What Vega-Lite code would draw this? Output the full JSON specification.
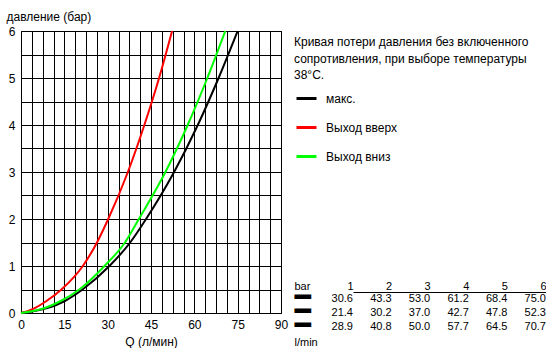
{
  "$schema": "https://vega.github.io/schema/vega-lite/v6.json",
  "padding": {"left": 5, "top": 9, "right": 0, "bottom": 0},
  "background": "white",
  "bounds": "flush",
  "spacing": 13,
  "config": {
    "font": "Liberation Sans",
    "view": {"stroke": "black", "strokeWidth": 1},
    "axis": {"labelColor": "black", "titleColor": "black", "labelFontSize": 12, "titleFontSize": 12, "titleFontWeight": "normal", "labelFont": "Liberation Sans", "titleFont": "Liberation Sans"}
  },
  "datasets": {
    "curves": [
      {"series": "макс.", "Q": 0, "p": 0},
      {"series": "макс.", "Q": 8.7, "p": 0.1},
      {"series": "макс.", "Q": 15, "p": 0.25},
      {"series": "макс.", "Q": 21.3, "p": 0.5},
      {"series": "макс.", "Q": 30.6, "p": 1},
      {"series": "макс.", "Q": 37.8, "p": 1.5},
      {"series": "макс.", "Q": 43.3, "p": 2},
      {"series": "макс.", "Q": 53.0, "p": 3},
      {"series": "макс.", "Q": 61.2, "p": 4},
      {"series": "макс.", "Q": 68.4, "p": 5},
      {"series": "макс.", "Q": 75.0, "p": 6},
      {"series": "Выход вверх", "Q": 0, "p": 0},
      {"series": "Выход вверх", "Q": 4.6, "p": 0.1},
      {"series": "Выход вверх", "Q": 8.7, "p": 0.25},
      {"series": "Выход вверх", "Q": 14, "p": 0.5},
      {"series": "Выход вверх", "Q": 21.4, "p": 1},
      {"series": "Выход вверх", "Q": 26.3, "p": 1.5},
      {"series": "Выход вверх", "Q": 30.2, "p": 2},
      {"series": "Выход вверх", "Q": 37.0, "p": 3},
      {"series": "Выход вверх", "Q": 42.7, "p": 4},
      {"series": "Выход вверх", "Q": 47.8, "p": 5},
      {"series": "Выход вверх", "Q": 52.3, "p": 6},
      {"series": "Выход вниз", "Q": 0, "p": 0},
      {"series": "Выход вниз", "Q": 8, "p": 0.1},
      {"series": "Выход вниз", "Q": 13.6, "p": 0.25},
      {"series": "Выход вниз", "Q": 20.2, "p": 0.5},
      {"series": "Выход вниз", "Q": 28.9, "p": 1},
      {"series": "Выход вниз", "Q": 36, "p": 1.5},
      {"series": "Выход вниз", "Q": 40.8, "p": 2},
      {"series": "Выход вниз", "Q": 50.0, "p": 3},
      {"series": "Выход вниз", "Q": 57.7, "p": 4},
      {"series": "Выход вниз", "Q": 64.5, "p": 5},
      {"series": "Выход вниз", "Q": 70.7, "p": 6}
    ]
  },
  "hconcat": [
    {
      "width": 260,
      "height": 282,
      "data": {"name": "curves"},
      "mark": {"type": "line", "interpolate": "monotone", "strokeWidth": 2},
      "encoding": {
        "x": {
          "field": "Q", "type": "quantitative",
          "scale": {"domain": [0, 90], "nice": false, "zero": true},
          "axis": {
            "values": [0, 3.75, 7.5, 11.25, 15, 18.75, 22.5, 26.25, 30, 33.75, 37.5, 41.25, 45, 48.75, 52.5, 56.25, 60, 63.75, 67.5, 71.25, 75, 78.75, 82.5, 86.25, 90],
            "labelExpr": "datum.value % 15 == 0 ? format(datum.value, 'd') : ''",
            "grid": true, "gridColor": "black", "gridOpacity": 1, "gridWidth": 1,
            "ticks": false, "tickSize": 0, "domain": false,
            "labelPadding": 6, "labelFlush": false, "labelOverlap": false,
            "title": "Q (л/мин)", "titlePadding": 6
          }
        },
        "y": {
          "field": "p", "type": "quantitative",
          "scale": {"domain": [0, 6], "nice": false},
          "axis": {
            "values": [0, 0.5, 1, 1.5, 2, 2.5, 3, 3.5, 4, 4.5, 5, 5.5, 6],
            "labelExpr": "datum.value % 1 == 0 ? format(datum.value, 'd') : ''",
            "grid": true, "gridColor": "black", "gridOpacity": 1, "gridWidth": 1,
            "ticks": false, "tickSize": 0, "domain": false,
            "labelPadding": 6, "labelFlush": false, "labelOverlap": false,
            "title": "давление (бар)", "titleAngle": 0, "titleX": -15, "titleY": -11,
            "titleAlign": "left", "titleBaseline": "alphabetic"
          }
        },
        "color": {
          "field": "series", "type": "nominal",
          "scale": {"domain": ["макс.", "Выход вверх", "Выход вниз"], "range": ["#000000", "#ff0000", "#00ff00"]},
          "legend": {
            "orient": "none", "legendX": 274, "legendY": 56, "title": null,
            "symbolType": "stroke", "symbolSize": 400, "symbolStrokeWidth": 3,
            "labelOffset": 8, "rowPadding": 11, "padding": 0,
            "labelFontSize": 12, "labelColor": "black", "labelFont": "Liberation Sans"
          }
        }
      }
    },
    {
      "width": 252,
      "height": 282,
      "data": {"name": "curves"},
      "transform": [{"filter": "datum.p >= 1 && datum.p % 1 == 0"}],
      "view": {"stroke": null},
      "title": {
        "text": ["Кривая потери давления без включенного", "сопротивления, при выборе температуры", "38°C."],
        "anchor": "start", "frame": "group", "orient": "top", "offset": 0,
        "baseline": "top", "dy": 51, "lineHeight": 16.5,
        "fontSize": 12, "fontWeight": "normal", "color": "black", "font": "Liberation Sans"
      },
      "mark": {"type": "text", "align": "right", "baseline": "alphabetic", "fontSize": 11, "color": "black"},
      "encoding": {
        "x": {
          "field": "p", "type": "ordinal",
          "scale": {"type": "point", "range": [59, 252], "padding": 0},
          "axis": {
            "orient": "top", "offset": -261, "ticks": false, "tickSize": 0,
            "domain": true, "domainColor": "black", "domainWidth": 1,
            "labelAngle": 0, "labelAlign": "right", "labelBaseline": "alphabetic", "labelPadding": 3, "labelFontSize": 11,
            "title": "bar", "titleAngle": 0, "titleX": 0, "titleY": -3, "titleAlign": "left", "titleBaseline": "alphabetic", "titleFontSize": 11
          }
        },
        "y": {
          "field": "series", "type": "nominal",
          "sort": ["макс.", "Выход вверх", "Выход вниз"],
          "scale": {"type": "point", "range": [271, 299], "padding": 0},
          "axis": {
            "orient": "left", "ticks": false, "tickSize": 0, "domain": false,
            "labelExpr": "'━'", "labelAlign": "left", "labelBaseline": "alphabetic", "labelPadding": 0, "labelOffset": 3,
            "labelFont": "DejaVu Sans", "labelFontSize": 27,
            "encode": {"labels": {"update": {"fill": {"signal": "datum.value === 'Выход вверх' ? '#ff0000' : datum.value === 'Выход вниз' ? '#00ff00' : '#000000'"}}}},
            "title": "l/min", "titleAngle": 0, "titleX": 0, "titleY": 314, "titleAlign": "left", "titleBaseline": "alphabetic", "titleFontSize": 11
          }
        },
        "text": {"field": "Q", "type": "quantitative", "format": ".1f"}
      }
    }
  ]
}
